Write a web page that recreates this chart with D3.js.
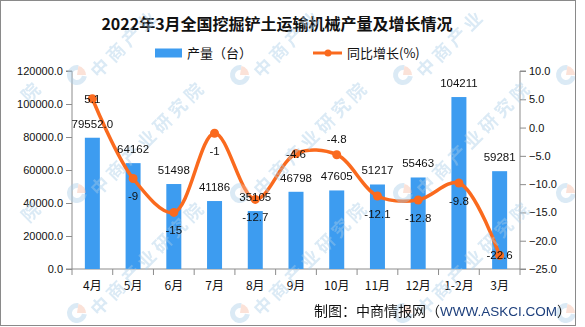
<!DOCTYPE html>
<html><head><meta charset="utf-8">
<script src="https://cdn.jsdelivr.net/npm/d3@7/dist/d3.min.js"></script>
<style>
html,body{margin:0;padding:0;background:#fff;}
svg{display:block;}
</style></head>
<body>
<svg id="chart" width="585" height="327"></svg>
<script>
const categories = ["4月","5月","6月","7月","8月","9月","10月","11月","12月","1-2月","3月"];
const production = [79552, 64162, 51498, 41186, 35105, 46798, 47605, 51217, 55463, 104211, 59281];
const productionLabels = ["79552.0","64162","51498","41186","35105","46798","47605","51217","55463","104211","59281"];
const growth = [5.1, -9, -15, -1, -12.7, -4.6, -4.8, -12.1, -12.8, -9.8, -22.6];
const leftTicks = [0, 20000, 40000, 60000, 80000, 100000, 120000];
const rightTicks = [10, 5, 0, -5, -10, -15, -20, -25];
const growthLabelPlace = ["center","below","below","below","below","center","above","below","below","below","center"];
const watermarkText = "中商产业研究院";

const svg = d3.select("#chart");
const plot = {left: 72, right: 520, top: 71, bottom: 269};
const font = "'Liberation Sans', Arial, sans-serif";
const cjk = "'Noto Sans CJK SC', sans-serif";
const blue = "#3d9cf0", orange = "#fa6a1e", axisGray = "#8c8c8c";

// background
svg.append("rect").attr("x",0.5).attr("y",0.5).attr("width",575).attr("height",325)
  .attr("fill","#fff").attr("stroke","#8a8a8a").attr("stroke-width",1);

// title
svg.append("text").attr("x",277).attr("y",30).attr("text-anchor","middle")
  .attr("font-family",cjk).attr("font-weight","bold").attr("font-size",16).attr("fill","#111")
  .text("2022年3月全国挖掘铲土运输机械产量及增长情况");

// legend
svg.append("rect").attr("x",155).attr("y",48.5).attr("width",27).attr("height",9).attr("fill",blue);
svg.append("text").attr("x",187).attr("y",58).attr("font-family",cjk).attr("font-size",13).attr("fill","#111").text("产量（台）");
svg.append("line").attr("x1",313).attr("x2",342).attr("y1",53).attr("y2",53).attr("stroke",orange).attr("stroke-width",3);
svg.append("circle").attr("cx",328).attr("cy",53).attr("r",3.5).attr("fill",orange);
svg.append("text").attr("x",347).attr("y",58).attr("font-family",cjk).attr("font-size",13).attr("fill","#111").text("同比增长(%)");

// scales
const x = d3.scaleBand().domain(categories).range([plot.left, plot.right]).paddingInner(0).paddingOuter(0);
const yL = d3.scaleLinear().domain([0,120000]).range([plot.bottom, plot.top]);
const yR = d3.scaleLinear().domain([-25,10]).range([plot.bottom, plot.top]);

// axes
const axL = d3.axisLeft(yL).tickValues(leftTicks).tickFormat(d3.format(".1f")).tickSize(6).tickPadding(3);
const gL = svg.append("g").attr("transform",`translate(${plot.left},0)`).call(axL);
const axR = d3.axisRight(yR).tickValues(rightTicks).tickFormat(d3.format(".1f")).tickSize(6).tickPadding(3);
const gR = svg.append("g").attr("transform",`translate(${plot.right},0)`).call(axR);
const axB = d3.axisBottom(x).tickSize(0).tickPadding(12);
const gB = svg.append("g").attr("transform",`translate(0,${plot.bottom})`).call(axB);
svg.append("g").selectAll("line").data(d3.range(categories.length+1)).join("line")
  .attr("x1",i=>plot.left + i*x.step()).attr("x2",i=>plot.left + i*x.step())
  .attr("y1",plot.bottom).attr("y2",plot.bottom+6).attr("stroke",axisGray);

[gL,gR,gB].forEach(g=>{
  g.selectAll("path.domain").attr("stroke",axisGray);
  g.selectAll(".tick line").attr("stroke",axisGray);
  g.selectAll("text").attr("font-family",font).attr("font-size",11).attr("fill","#111");
});
gB.selectAll("text").attr("font-family",cjk).attr("font-size",12);
gB.select("path.domain").attr("d",`M${plot.left},0H${plot.right}`);
gL.select("path.domain").attr("d",`M-6,${plot.top}H0V${plot.bottom}H-6`);
gR.select("path.domain").attr("d",`M6,${plot.top}H0V${plot.bottom}H6`);

// bars
const barW = 15;
svg.append("g").selectAll("rect").data(production).join("rect")
  .attr("x",(d,i)=>x(categories[i]) + x.bandwidth()/2 - barW/2)
  .attr("y",d=>yL(d)).attr("width",barW).attr("height",d=>plot.bottom - yL(d))
  .attr("fill",blue);

// line
const cx = i => x(categories[i]) + x.bandwidth()/2;
const line = d3.line().x((d,i)=>cx(i)).y(d=>yR(d)).curve(d3.curveCatmullRom.alpha(0.5));
svg.append("path").datum(growth).attr("d",line).attr("fill","none")
  .attr("stroke",orange).attr("stroke-width",3.5);
svg.append("g").selectAll("circle").data(growth).join("circle")
  .attr("cx",(d,i)=>cx(i)).attr("cy",d=>yR(d)).attr("r",4.5).attr("fill",orange);

// watermarks (semi-transparent, characters placed individually, only those inside the frame)
const wm = svg.append("g").attr("opacity",0.42);
const wmX = d3.range(5).map(i => -86 + i*163);
const wmY = [75, 193, 313];
const arcBlue = d3.arc().innerRadius(5).outerRadius(10).startAngle(Math.PI*0.55).endAngle(Math.PI*2.05);
const arcPink = d3.arc().innerRadius(0).outerRadius(9).startAngle(Math.PI*0.05).endAngle(Math.PI*0.5);
const chars = Array.from(watermarkText);
wmY.forEach(ly => wmX.forEach(lx => {
  if (lx > 0 && lx < 576) {
    const g = wm.append("g").attr("transform",`translate(${lx},${ly})`);
    g.append("path").attr("d",arcBlue()).attr("fill","#a9cde8");
    g.append("path").attr("d",arcPink()).attr("fill","#f6b9a3");
  }
  chars.forEach((ch,k) => {
    const px = lx + 22 + k*15.6, py = ly - 8 - k*15.6;
    if (px < 18 || px > 560 || py < 16 || py > 312) return;
    wm.append("text").attr("transform",`translate(${px},${py}) rotate(-45)`)
      .attr("text-anchor","middle").attr("dominant-baseline","central")
      .attr("font-family",cjk).attr("font-weight","bold").attr("font-size",18)
      .attr("fill","#a9cde8").text(ch);
  });
}));

// bar labels
svg.append("g").selectAll("text").data(production).join("text")
  .attr("x",(d,i)=>x(categories[i]) + x.bandwidth()/2)
  .attr("y",d=>yL(d) - 10).attr("text-anchor","middle")
  .attr("font-family",font).attr("font-size",11.5).attr("fill","#111")
  .text((d,i)=>productionLabels[i]);

// growth labels
const off = {center: 4, below: 22, above: -12};
svg.append("g").selectAll("text").data(growth).join("text")
  .attr("x",(d,i)=>cx(i)).attr("y",(d,i)=>yR(d) + off[growthLabelPlace[i]])
  .attr("text-anchor","middle").attr("font-family",font).attr("font-size",11.5).attr("fill","#111")
  .text(d=>String(d));

// footer
const ft = svg.append("text").attr("x",571).attr("y",316).attr("text-anchor","end")
  .attr("font-family",cjk).attr("font-size",14).attr("fill","#111");
ft.append("tspan").text("制图：中商情报网（");
ft.append("tspan").attr("fill","#1d3f7c").attr("font-family",font).attr("font-size",13.5).text("WWW.ASKCI.COM");
ft.append("tspan").text("）");

// border on top
svg.append("rect").attr("x",0.5).attr("y",0.5).attr("width",575).attr("height",325)
  .attr("fill","none").attr("stroke","#8a8a8a").attr("stroke-width",1);
</script>
</body></html>
